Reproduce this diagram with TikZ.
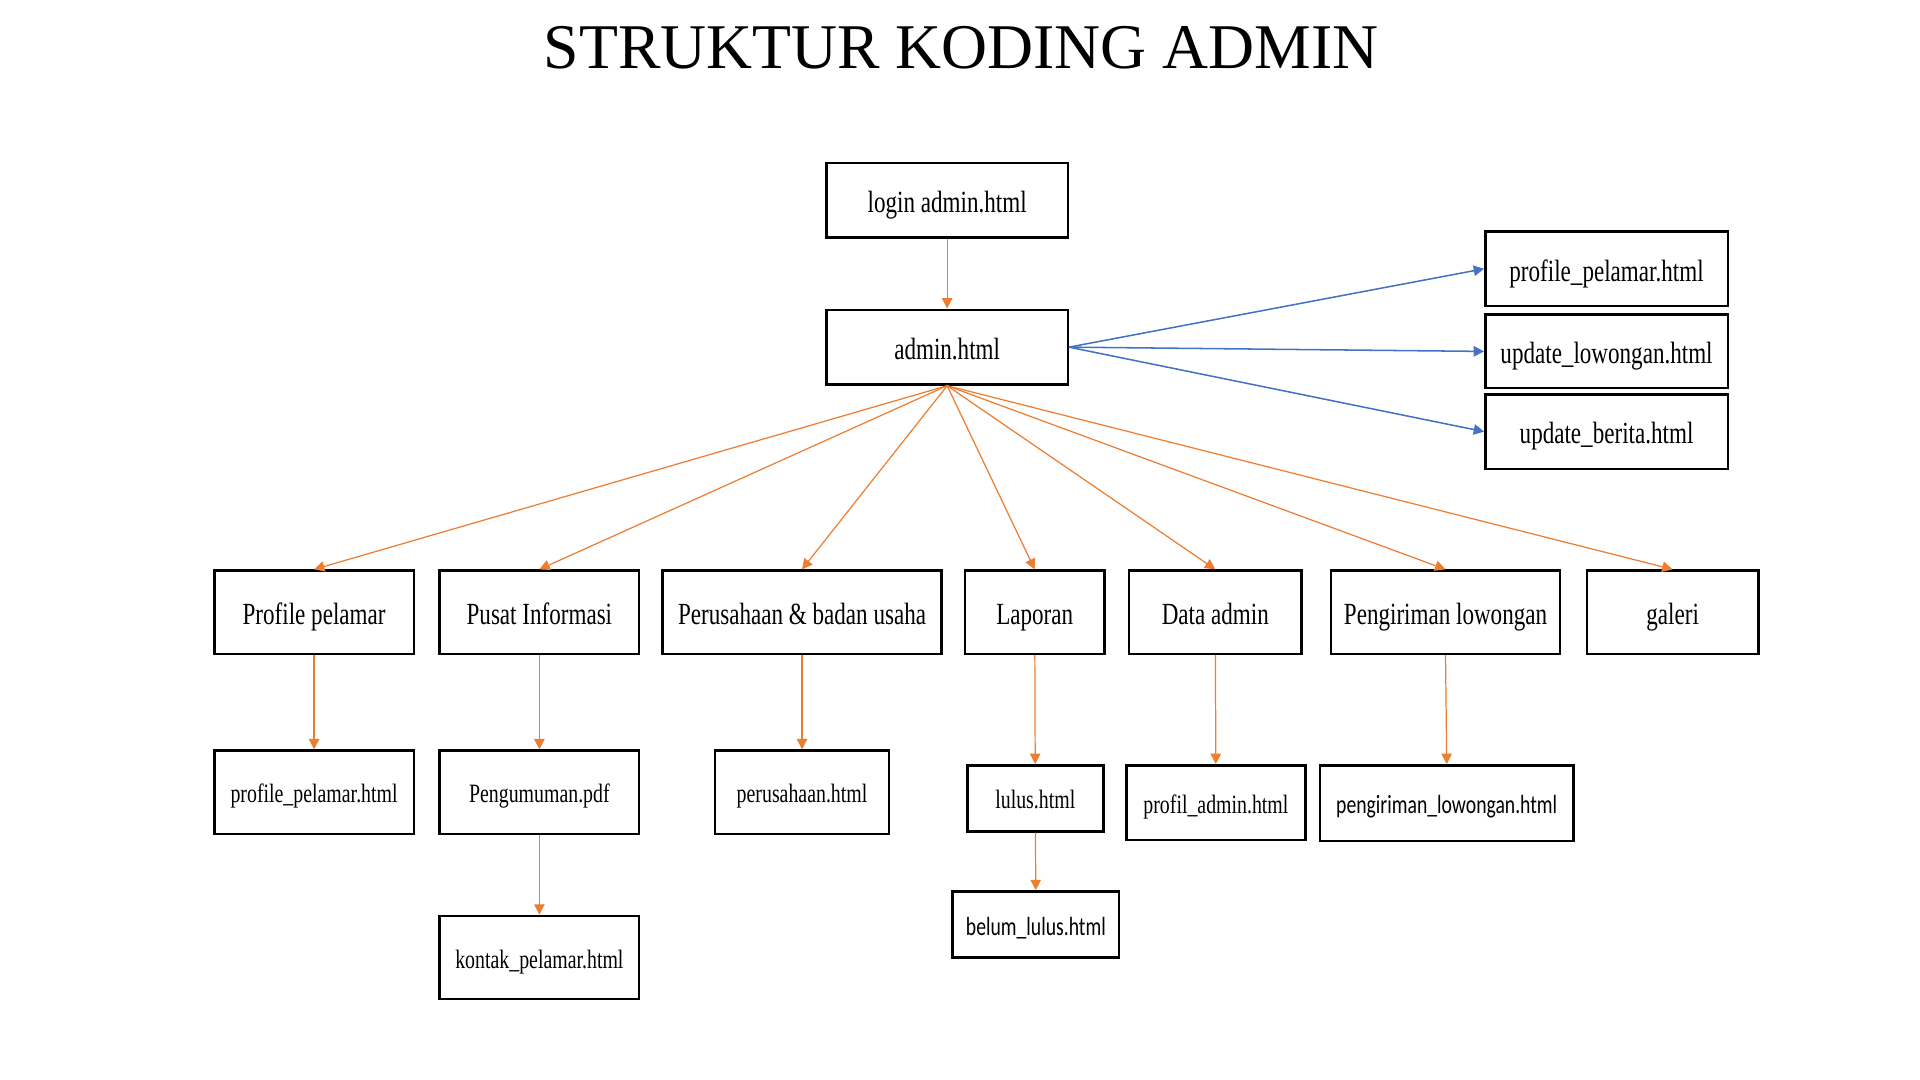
\documentclass[tikz,border=0pt]{standalone}
\usepackage{fontspec}
\setmainfont{Liberation Serif}
\newfontfamily\narrowserif[FakeStretch=0.75]{Liberation Serif}
\newfontfamily\narrowsans[FakeStretch=0.75]{Carlito}
\definecolor{link-orange}{RGB}{237,125,49}
\definecolor{link-blue}{RGB}{68,114,196}
\usetikzlibrary{
  arrows.meta      % triangle tips
}
\tikzset{
  every node/.style = {
    rectangle,
    draw,
    line width=0.4mm,
    inner sep=0pt,
    text depth=0pt
  },
  % box size given in picture units (0.2mm)
  box/.style 2 args = {minimum width=#1*0.2mm, minimum height=#2*0.2mm},
  page/.append style = {text height=11.4pt, font=\narrowserif\fontsize{14.3}{16}\selectfont},
  subpage/.append style = {text height=9.8pt, font=\narrowserif\fontsize{12.3}{14}\selectfont},
  sanspage/.append style = {text height=9.8pt, font=\narrowsans\fontsize{12.2}{14}\selectfont},
  heading/.append style = {draw=none, text height=19.6pt, font=\fontsize{29.6}{34}\selectfont},
  orange-link/.append style = {draw=link-orange, line width=0.2mm},
  blue-link/.append style = {draw=link-blue, line width=0.25mm},
  ->,                                        % arrows for all
  >={Triangle[length=1.7mm, width=1.7mm]}    % arrow type
}

\begin{document}
\begin{tikzpicture}[x=0.2mm, y=-0.2mm]
\useasboundingbox (0,0) rectangle (1568,882);

\node[heading] (title) at (785,39) {STRUKTUR KODING ADMIN};

% top
\node[page, box={197}{61}] (login) at (773.5,163.5) {login admin.html};
\node[page, box={197}{61}] (admin) at (773.5,283.5) {admin.html};

% right column
\node[page, box={198}{61}] (upprofile) at (1312,219.5) {profile\_pelamar.html};
\node[page, box={198}{60}] (uplowongan) at (1312,287) {update\_lowongan.html};
\node[page, box={198}{61}] (upberita) at (1312,352.5) {update\_berita.html};

% menu row
\node[page, box={163}{68}] (profile) at (256.5,500) {Profile pelamar};
\node[page, box={163}{68}] (pusat) at (440.5,500) {Pusat Informasi};
\node[page, box={228}{68}] (perusahaan) at (655,500) {Perusahaan \& badan usaha};
\node[page, box={114}{68}] (laporan) at (845,500) {Laporan};
\node[page, box={141}{68}] (data) at (992.5,500) {Data admin};
\node[page, box={187}{68}] (pengiriman) at (1180.5,500) {Pengiriman lowongan};
\node[page, box={140}{68}] (galeri) at (1366,500) {galeri};

% pages
\node[subpage, box={163}{68}] (profilehtml) at (256.5,647) {profile\_pelamar.html};
\node[subpage, box={163}{68}] (pengumuman) at (440.5,647) {Pengumuman.pdf};
\node[subpage, box={142}{68}] (perusahaanhtml) at (655,647) {perusahaan.html};
\node[subpage, box={111}{54}] (lulus) at (845.5,652) {lulus.html};
\node[subpage, box={146}{61}] (profiladmin) at (993,655.5) {profil\_admin.html};
\node[sanspage, box={207}{62}] (pengirimanhtml) at (1181.5,656) {pengiriman\_lowongan.html};
\node[subpage, box={163}{68}] (kontak) at (440.5,782) {kontak\_pelamar.html};
\node[sanspage, box={136}{54}] (belum) at (846,755) {belum\_lulus.html};

% links
\draw[orange-link] (login) -- (admin);
\foreach \menu in {profile,pusat,perusahaan,laporan,data,pengiriman,galeri}
  \draw[orange-link] (admin.south) -- (\menu.north);
\foreach \page in {upprofile,uplowongan,upberita}
  \draw[blue-link] (admin.east) -- (\page.west);
\draw[orange-link] (profile) -- (profilehtml);
\draw[orange-link] (pusat) -- (pengumuman);
\draw[orange-link] (pengumuman) -- (kontak);
\draw[orange-link] (perusahaan) -- (perusahaanhtml);
\draw[orange-link] (laporan) -- (lulus);
\draw[orange-link] (lulus) -- (belum);
\draw[orange-link] (data) -- (profiladmin);
\draw[orange-link] (pengiriman.south) -- (pengirimanhtml.north);
\end{tikzpicture}
\end{document}
